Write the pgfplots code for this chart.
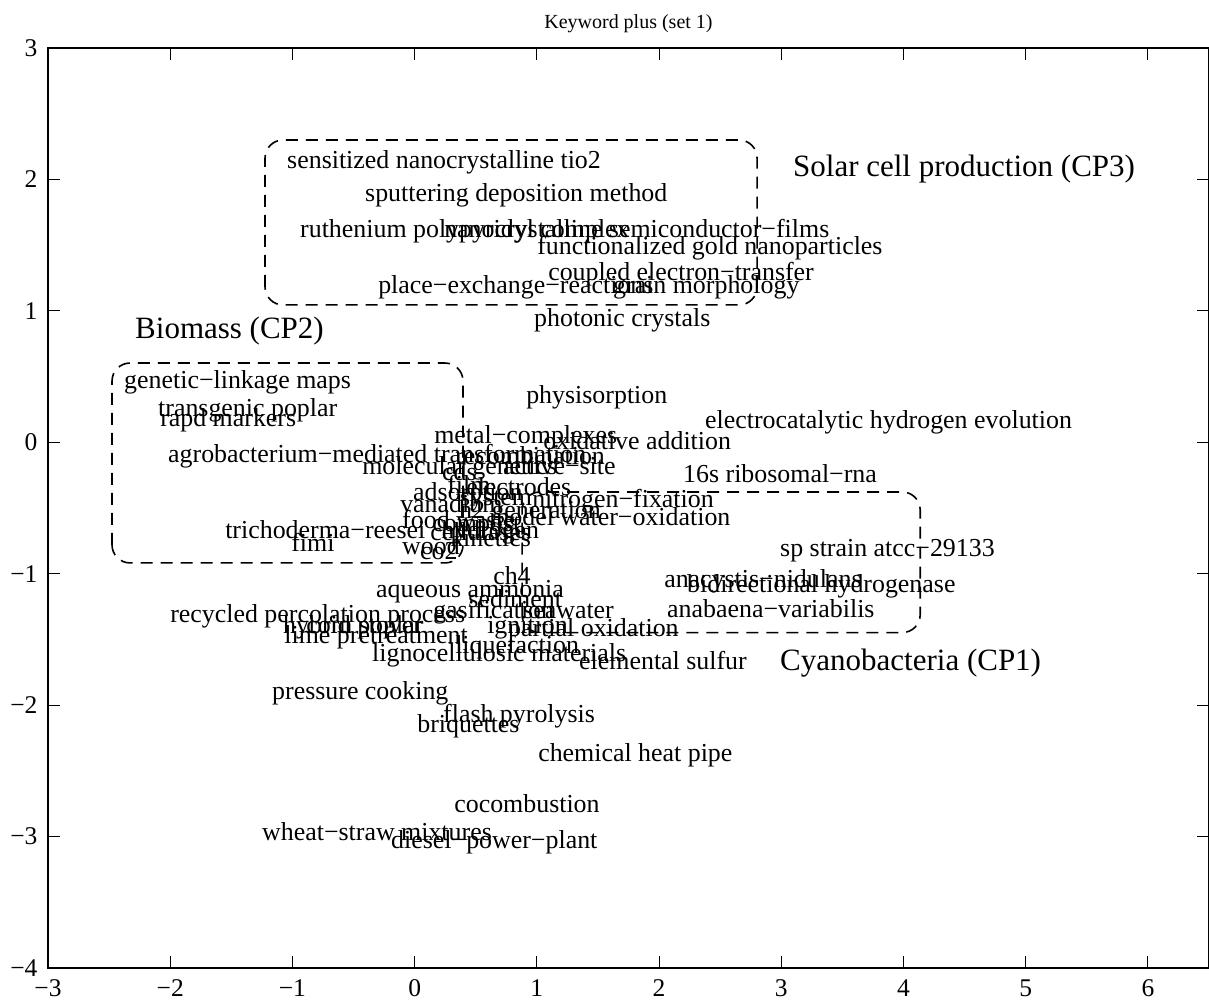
\documentclass[border=0pt]{standalone}
\usepackage{fontspec}
\setmainfont{Liberation Serif}
\usepackage{pgfplots}
\pgfplotsset{compat=1.18}
\begin{document}
\begin{tikzpicture}
\useasboundingbox (0,0) rectangle (1209pt,1005pt);
\begin{axis}[
  at={(48pt,37pt)}, anchor=south west,
  width=1161pt, height=920pt, scale only axis,
  xmin=-3, xmax=6.5, ymin=-4, ymax=3,
  xtick={-3,-2,-1,0,1,2,3,4,5,6},
  ytick={-4,-3,-2,-1,0,1,2,3},
  xticklabels={−3,−2,−1,0,1,2,3,4,5,6},
  yticklabels={−4,−3,−2,−1,0,1,2,3},
  tick align=inside,
  xtick pos=both, ytick pos=both,
  major tick length=12pt,
  tick style={black, line width=0.9pt},
  axis line style={line width=1.4pt},
  ticklabel style={font=\fontsize{25.5}{25.5}\selectfont},
  xticklabel style={yshift=-8pt},
  yticklabel style={xshift=-7pt},
  title={Keyword plus (set 1)},
  title style={font=\fontsize{20}{20}\selectfont, at={(0.5,1)}, anchor=base, yshift=13pt},
  clip=false,
]
% keyword labels (left edge, vertical centre)
\addplot[only marks, mark=none, nodes near coords, point meta=explicit symbolic,
  every node near coord/.style={anchor=base west, inner sep=0pt, yshift=-9pt,
    text=black, font=\fontsize{25.9}{26}\selectfont}]
coordinates {
(-1.044,2.148) [sensitized nanocrystalline tio2]
(-0.406,1.897) [sputtering deposition method]
(-0.938,1.623) [ruthenium polypyridyl complex]
(0.241,1.623) [nanocrystalline semiconductor−films]
(1.002,1.494) [functionalized gold nanoparticles]
(1.092,1.296) [coupled electron−transfer]
(-0.299,1.204) [place−exchange−reactions]
(1.623,1.204) [grain morphology]
(0.977,0.946) [photonic crystals]
(-2.378,0.474) [genetic−linkage maps]
(-2.100,0.261) [transgenic poplar]
(-2.083,0.185) [rapd markers]
(-2.018,-0.089) [agrobacterium−mediated transformation]
(-1.551,-0.660) [trichoderma−reesei]
(-1.011,-0.766) [fimi]
(-0.103,-0.789) [wood]
(0.044,-0.820) [co2]
(0.912,0.360) [physisorption]
(2.376,0.177) [electrocatalytic hydrogen evolution]
(0.159,0.063) [metal−complexes]
(1.051,0.010) [oxidative addition]
(0.331,-0.097) [recombination]
(-0.430,-0.180) [molecular genetics]
(0.224,-0.226) [cds]
(0.723,-0.180) [active−site]
(-0.013,-0.371) [adsorption]
(0.266,-0.318) [film]
(0.421,-0.333) [electrodes]
(0.961,-0.431) [nitrogen−fixation]
(-0.119,-0.462) [vanadium]
(0.371,-0.414) [system]
(0.363,-0.508) [h2 generation]
(0.609,-0.568) [model water−oxidation]
(-0.103,-0.584) [food waste]
(0.144,-0.607) [compost]
(0.127,-0.675) [cellulases]
(0.217,-0.660) [hydrogen]
(0.290,-0.728) [kinetics]
(0.642,-1.017) [ch4]
(-0.316,-1.116) [aqueous ammonia]
(0.439,-1.185) [sediment]
(-2.001,-1.299) [recycled percolation process]
(0.151,-1.276) [gasification]
(0.887,-1.276) [seawater]
(-1.077,-1.390) [hybrid poplar]
(-0.888,-1.383) [corn stover]
(-1.067,-1.466) [lime pretreatment]
(0.593,-1.383) [ignition]
(0.764,-1.413) [partial oxidation]
(0.331,-1.542) [liquefaction]
(-0.349,-1.603) [lignocellulosic materials]
(1.345,-1.664) [elemental sulfur]
(-1.167,-1.885) [pressure cooking]
(0.232,-2.067) [flash pyrolysis]
(0.021,-2.136) [briquettes]
(1.010,-2.364) [chemical heat pipe]
(0.323,-2.745) [cocombustion]
(-1.249,-2.965) [wheat−straw mixtures]
(-0.193,-3.026) [diesel−power−plant]
(2.196,-0.241) [16s ribosomal−rna]
(2.990,-0.804) [sp strain atcc−29133]
(2.041,-1.033) [anacystis−nidulans]
(2.229,-1.071) [bidirectional hydrogenase]
(2.065,-1.268) [anabaena−variabilis]
};
% cluster names
\addplot[only marks, mark=none, nodes near coords, point meta=explicit symbolic,
  every node near coord/.style={anchor=base west, inner sep=0pt, yshift=-10pt,
    text=black, font=\fontsize{31}{31}\selectfont}]
coordinates {
(3.096,2.102) [Solar cell production (CP3)]
(-2.288,0.862) [Biomass (CP2)]
(2.990,-1.664) [Cyanobacteria (CP1)]
};
% cluster boxes
\draw[line width=1.6pt, dash pattern=on 12pt off 8pt, rounded corners=18pt]
  (axis cs:-1.224,1.045) rectangle (axis cs:2.802,2.300);
\draw[line width=1.6pt, dash pattern=on 12pt off 8pt, rounded corners=18pt]
  (axis cs:-2.476,-0.918) rectangle (axis cs:0.396,0.603);
\draw[line width=1.6pt, dash pattern=on 12pt off 8pt, rounded corners=18pt]
  (axis cs:0.879,-1.448) rectangle (axis cs:4.137,-0.378);
\end{axis}
\end{tikzpicture}
\end{document}
